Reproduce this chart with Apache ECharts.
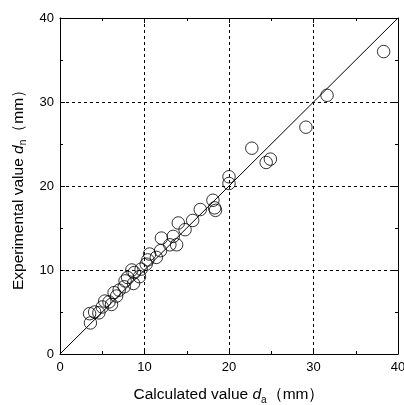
<!DOCTYPE html>
<html>
<head>
<meta charset="utf-8">
<script src="https://cdn.jsdelivr.net/npm/echarts@6/dist/echarts.min.js"></script>
<style>
  html, body { margin: 0; padding: 0; background: #fff; }
  #chart { width: 404px; height: 405px; }
</style>
</head>
<body>
<div id="chart"></div>
<script>
// Calculated diameter (x) vs experimental diameter (y), both in mm
const calculated = [3.6, 3.5, 4.1, 4.6, 5.0, 5.3, 5.8, 6.1, 6.4, 6.7, 7.0, 7.6, 7.7, 8.0, 8.5, 8.7, 8.8, 9.4, 9.6,
  10.2, 10.4, 10.6, 11.4, 11.9, 12.0, 13.0, 13.4, 13.8, 14.0, 14.8, 15.7, 16.6, 18.1, 18.3, 18.4,
  20.0, 20.0, 22.7, 24.4, 24.9, 29.1, 31.6, 38.3];
const experimental = [3.7, 4.8, 5.0, 4.9, 5.6, 6.3, 6.2, 5.9, 7.3, 6.9, 7.6, 8.0, 8.7, 9.1, 10.0, 8.4, 9.7, 9.2, 10.1,
  10.7, 11.2, 11.9, 11.5, 12.3, 13.8, 13.0, 14.0, 13.0, 15.6, 14.8, 15.9, 17.2, 18.3, 17.4, 17.1,
  21.1, 20.3, 24.5, 22.8, 23.2, 27.0, 30.8, 36.0];
// Line of perfect agreement
const refLine = [[0, 0], [40, 40]];
const axisMin = 0, axisMax = 40, axisStep = 10;

const points = calculated.map((c, i) => [c, experimental[i]]);
const FONT = '"Liberation Sans", Arial, sans-serif';

const baseAxis = {
  min: axisMin, max: axisMax, interval: axisStep,
  axisLine: { show: true, onZero: false, lineStyle: { color: '#000', width: 1 } },
  axisTick: { show: true, inside: true, length: 5, lineStyle: { color: '#000' } },
  minorTick: { show: true, splitNumber: 2, length: 3, lineStyle: { color: '#000' } },
  splitLine: { show: false },
  axisLabel: { show: false }
};

const titleRich = {
  a: { fontFamily: FONT, fontSize: 15.5, color: '#000' },
  i: { fontFamily: FONT, fontSize: 15.5, fontStyle: 'italic', color: '#000' },
  s: { fontFamily: FONT, fontSize: 10, color: '#000', padding: [10, 0, 0, 0] }
};

const option = {
  animation: false,
  backgroundColor: '#fff',
  grid: { left: 60, right: 6, top: 18, bottom: 51, outerBoundsMode: 'none', containLabel: false },
  xAxis: [
    Object.assign({}, baseAxis, {
      type: 'value', position: 'bottom',
      splitLine: { show: true, lineStyle: { color: '#000', type: [3, 3], width: 1 } },
      axisLabel: { show: true, fontFamily: FONT, fontSize: 13, color: '#000', margin: 7 },
      name: '{a|Calculated value }{i|d}{s|a}{a|（mm）}',
      nameLocation: 'middle', nameGap: 31,
      nameTextStyle: { rich: titleRich }
    }),
    Object.assign({}, baseAxis, { type: 'value', position: 'top' })
  ],
  yAxis: [
    Object.assign({}, baseAxis, {
      type: 'value', position: 'left',
      splitLine: { show: true, lineStyle: { color: '#000', type: [3, 3], width: 1 } },
      axisLabel: { show: true, fontFamily: FONT, fontSize: 13, color: '#000', margin: 6 },
      name: '{a|Experimental value }{i|d}{s|n}{a|（mm）}',
      nameLocation: 'middle', nameGap: 30,
      nameTextStyle: { rich: titleRich }
    }),
    Object.assign({}, baseAxis, { type: 'value', position: 'right' })
  ],
  series: [
    {
      type: 'line',
      data: refLine,
      symbol: 'none',
      lineStyle: { color: '#000', width: 1 },
      silent: true
    },
    {
      type: 'scatter',
      data: points,
      symbol: 'circle',
      symbolSize: 12.5,
      itemStyle: { color: 'rgba(255,255,255,0)', borderColor: '#000', borderWidth: 1 }
    }
  ]
};

echarts.init(document.getElementById('chart'), null, { renderer: 'canvas' }).setOption(option);
</script>
</body>
</html>
